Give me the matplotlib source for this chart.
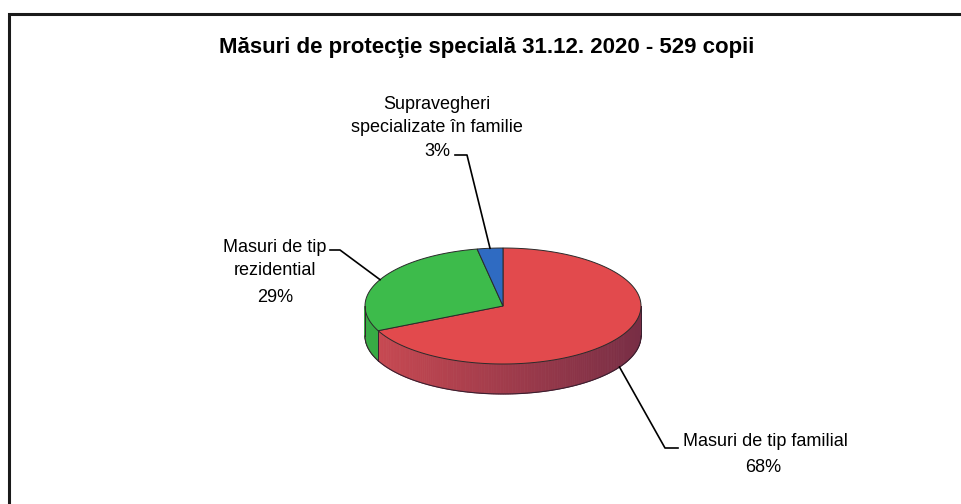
import numpy as np
import matplotlib.pyplot as plt
from matplotlib.patches import Polygon
from matplotlib.colors import to_rgb

# Données (pourcentages)
labels = ["Masuri de tip familial", "Masuri de tip\nrezidential", "Supravegheri\nspecializate în familie"]
values = [68, 29, 3]
top_colors = ["#E24A4D", "#3DBB4B", "#2F6BC2"]
side_light = ["#CB4A52", "#38AC45", "#285FAE"]
side_dark = ["#782E45", "#2C8A38", "#1F4C8C"]
title = "Măsuri de protecţie specială 31.12. 2020 - 529 copii"

plt.rcParams["font.family"] = ["Liberation Sans", "DejaVu Sans"]

W, H = 961, 504
fig = plt.figure(figsize=(W / 100, H / 100), dpi=100)
ax = fig.add_axes([0, 0, 1, 1])
ax.set_xlim(0, W)
ax.set_ylim(H, 0)
ax.axis("off")

# géométrie du camembert 3D
cx, cy, rx, ry, depth = 503, 306, 138, 58, 30


def pt(t, dz=0):
    r = np.radians(t)
    return cx + rx * np.cos(r), cy - ry * np.sin(r) + dz


fracs = np.array(values) / sum(values)
starts = 90 - np.concatenate([[0], np.cumsum(fracs)[:-1]]) * 360
ends = starts - fracs * 360

# faces latérales (partie avant visible)
for i in range(len(values)):
    a0, a1 = ends[i] % 360, starts[i] % 360
    if a1 <= a0:
        a1 += 360
    lo, hi = max(a0, 180), min(a1, 360)
    if hi <= lo:
        continue
    steps = np.linspace(lo, hi, int(hi - lo) + 2)
    c1 = np.array(to_rgb(side_light[i]))
    c2 = np.array(to_rgb(side_dark[i]))
    for s0, s1 in zip(steps[:-1], steps[1:]):
        m = (s0 + s1) / 2
        k = (1 + np.cos(np.radians(m))) / 2
        col = c1 * (1 - k) + c2 * k
        poly = [pt(s0), pt(s1), pt(s1, depth), pt(s0, depth)]
        ax.add_patch(Polygon(poly, closed=True, fc=col, ec=col, lw=0.6))
    ts = np.linspace(lo, hi, 100)
    bx, by = zip(*[pt(t, depth) for t in ts])
    ax.plot(bx, by, color="#3a2030", lw=0.8)
    for t in (lo, hi):
        x, y = pt(t)
        ax.plot([x, x], [y, y + depth], color="#3a2030", lw=0.7)

# faces supérieures
for i in range(len(values)):
    ts = np.linspace(starts[i], ends[i], 120)
    poly = [(cx, cy)] + [pt(t) for t in ts]
    ax.add_patch(Polygon(poly, closed=True, fc=top_colors[i], ec="#2a2a2a", lw=0.7))

# étiquettes et lignes de rappel
mids = (starts + ends) / 2
fs = 13
ls = 1.5
# familial
x0, y0 = pt(mids[0], depth)
ax.plot([x0, 665, 678], [y0, 448, 448], color="black", lw=1.2)
ax.text(683, 441, labels[0], fontsize=fs, ha="left", va="center")
ax.text(763, 467, f"{values[0]}%", fontsize=fs, ha="center", va="center")
# rezidential
x1, y1 = pt(mids[1])
ax.plot([330, 340, x1], [250, 250, y1], color="black", lw=1.2)
ax.text(275, 259, labels[1], fontsize=fs, ha="center", va="center", linespacing=ls)
ax.text(275, 297, f"{values[1]}%", fontsize=fs, ha="center", va="center")
# supravegheri
x2, y2 = pt(mids[2])
ax.plot([455, 467, x2], [155, 155, y2], color="black", lw=1.2)
ax.text(437, 116, labels[2], fontsize=fs, ha="center", va="center", linespacing=ls)
ax.text(437, 151, f"{values[2]}%", fontsize=fs, ha="center", va="center")

ax.text(487, 48, title, fontsize=16, fontweight="bold", ha="center", va="center")

# cadre
ax.plot([9, 9, W + 5], [H + 5, 14, 14], color="#1a1a1a", lw=2.2, solid_joinstyle="miter")

fig.savefig("out.png", dpi=100)
